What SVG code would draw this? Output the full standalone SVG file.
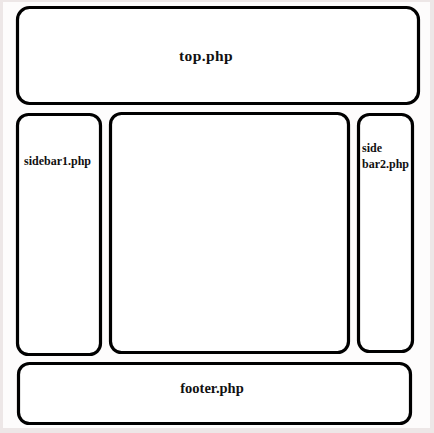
<svg xmlns="http://www.w3.org/2000/svg" width="434" height="433" viewBox="0 0 434 433">
<style>
.box{fill:#ffffff;stroke:#000000;stroke-width:3.2}
.lbl{font-family:"Liberation Serif","Times New Roman",serif;font-weight:bold;fill:#111111}
</style>
<rect x="0" y="0" width="434" height="433" fill="#ede7e7"/>
<rect x="3" y="2" width="427" height="426" fill="#fdfcfc"/>
<g id="top">
<rect class="box" x="17.5" y="7.5" width="401" height="96" rx="12"/>
<text class="lbl" x="206" y="61" font-size="15.5" text-anchor="middle" letter-spacing="0.4">top.php</text>
</g>
<g id="sidebar1">
<rect class="box" x="17.5" y="114.5" width="83" height="240" rx="11"/>
<text class="lbl" x="57.5" y="165" font-size="12" text-anchor="middle">sidebar1.php</text>
</g>
<g id="content">
<rect class="box" x="110.5" y="113.5" width="238" height="239" rx="11"/>
</g>
<g id="sidebar2">
<rect class="box" x="358.5" y="114.5" width="54" height="237" rx="11"/>
<text class="lbl" x="362" y="152" font-size="12">side</text>
<text class="lbl" x="362" y="168" font-size="12">bar2.php</text>
</g>
<g id="footer">
<rect class="box" x="18.5" y="363.5" width="392" height="60" rx="11"/>
<text class="lbl" x="212" y="46" font-size="14.5" text-anchor="middle" transform="translate(0,347)">footer.php</text>
</g>
<g id="connectors"></g>
</svg>
